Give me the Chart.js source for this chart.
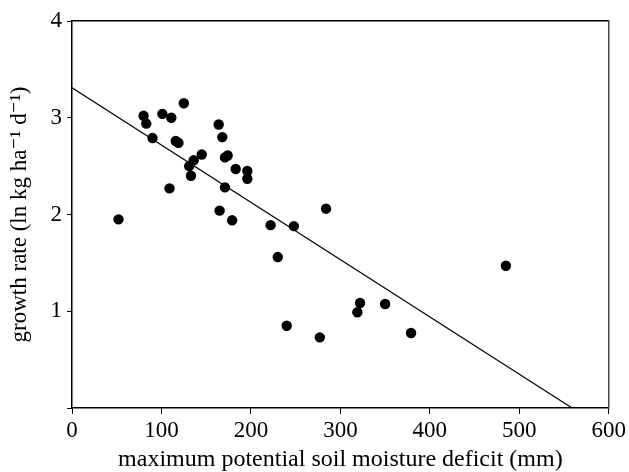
<!DOCTYPE html>
<html>
<head>
<meta charset="utf-8">
<script src="https://cdn.jsdelivr.net/npm/chart.js@4"></script>
<style>
  html, body { margin: 0; padding: 0; background: #fff; }
  #wrap { width: 629px; height: 472px; }
</style>
</head>
<body>
<div id="wrap"><canvas id="chart" width="629" height="472"></canvas></div>
<script>
// observed points
const deficit = [52, 80, 83, 90, 101, 111, 125, 109, 116, 119, 131, 136, 145, 133,
  164, 168, 171, 174, 183, 196, 196, 171, 165, 179, 222, 248, 284, 230, 240,
  277, 322, 319, 350, 379, 485];
const growth = [1.95, 3.02, 2.94, 2.79, 3.04, 3.00, 3.15, 2.27, 2.76, 2.74, 2.50, 2.56, 2.62, 2.40,
  2.93, 2.80, 2.59, 2.61, 2.47, 2.45, 2.37, 2.28, 2.04, 1.94, 1.89, 1.88, 2.06, 1.56, 0.85,
  0.73, 1.085, 0.99, 1.075, 0.775, 1.47];

// fitted line end points
const fitX = [0, 559];
const fitY = [3.31, 0];

const xTicks = [0, 100, 200, 300, 400, 500, 600];
const yTicks = [0, 1, 2, 3, 4];

const points = deficit.map((x, i) => ({ x: x, y: growth[i] }));
const fitLine = fitX.map((x, i) => ({ x: x, y: fitY[i] }));

const serif = "'Liberation Serif', 'DejaVu Serif', serif";
Chart.defaults.font.family = serif;
Chart.defaults.color = '#000';

new Chart(document.getElementById('chart'), {
  type: 'scatter',
  data: {
    datasets: [
      {
        label: 'data',
        data: points,
        backgroundColor: '#000',
        borderColor: '#000',
        borderWidth: 0,
        pointRadius: 5.2,
        pointHoverRadius: 5.2
      },
      {
        type: 'line',
        label: 'fit',
        data: fitLine,
        borderColor: '#000',
        borderWidth: 1.2,
        pointRadius: 0,
        fill: false
      }
    ]
  },
  options: {
    responsive: false,
    animation: false,
    layout: { padding: { top: 21, right: 19, left: 0, bottom: 0 } },
    plugins: { legend: { display: false }, tooltip: { enabled: false } },
    scales: {
      x: {
        type: 'linear',
        min: 0,
        max: 600,
        afterBuildTicks: s => { s.ticks = xTicks.map(v => ({ value: v })); },
        afterFit: s => { s.height = 64; },
        grid: { display: true, drawOnChartArea: false, drawTicks: true, tickLength: 6, color: '#000' },
        border: { display: true, color: '#000', width: 1.5 },
        ticks: { font: { size: 23 }, padding: 3, maxRotation: 0 },
        title: { display: true, text: 'maximum potential soil moisture deficit (mm)', font: { size: 24, lineHeight: 1 }, padding: { top: 0, bottom: 0 } }
      },
      y: {
        type: 'linear',
        min: 0,
        max: 4,
        afterBuildTicks: s => { s.ticks = yTicks.map(v => ({ value: v })); },
        afterFit: s => { s.width = 72; },
        grid: { display: true, drawOnChartArea: false, drawTicks: true, tickLength: 5, color: '#000' },
        border: { display: true, color: '#000', width: 1.5 },
        ticks: { font: { size: 23 }, padding: 5, callback: v => v === 0 ? '' : String(v) },
        title: { display: true, text: 'growth rate (ln kg ha\u207B\u00B9 d\u207B\u00B9)', font: { size: 23 }, padding: { top: 6, bottom: 0 } }
      },
      x2: {
        type: 'linear',
        position: 'top',
        min: 0,
        max: 600,
        afterFit: s => { s.height = 0; },
        grid: { display: false },
        border: { display: true, color: '#000', width: 1.5 },
        ticks: { display: false }
      },
      y2: {
        type: 'linear',
        position: 'right',
        min: 0,
        max: 4,
        afterFit: s => { s.width = 0; },
        grid: { display: false },
        border: { display: true, color: '#444', width: 1.5 },
        ticks: { display: false }
      }
    }
  }
});
</script>
</body>
</html>
